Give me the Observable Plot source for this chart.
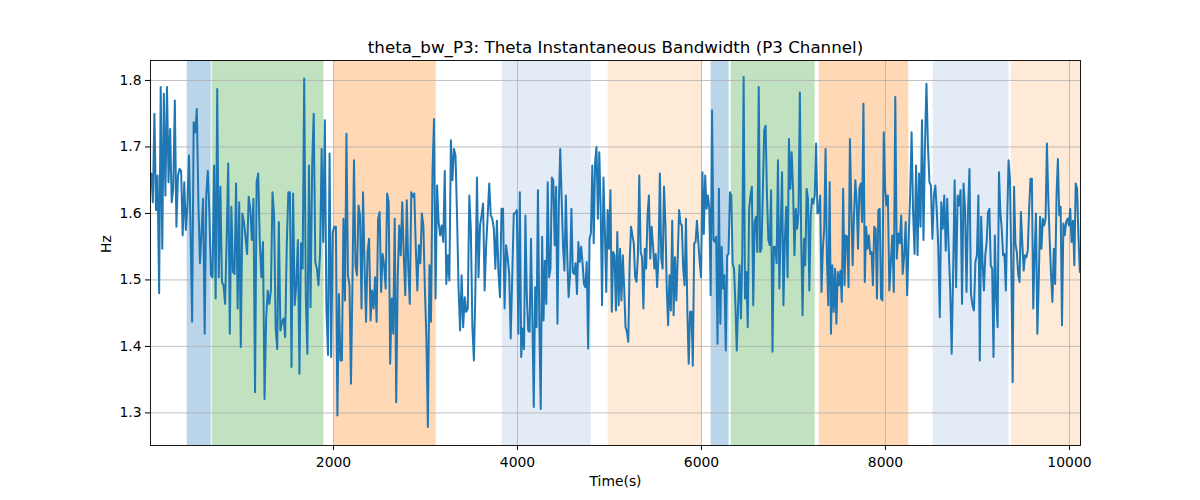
<!DOCTYPE html>
<html>
<head>
<meta charset="utf-8">
<script src="https://cdn.jsdelivr.net/npm/d3@7"></script>
<script src="https://cdn.jsdelivr.net/npm/@observablehq/plot@0.6"></script>
<style>
  html, body { margin: 0; padding: 0; background: #fff; }
  #chart { width: 1200px; height: 500px; }
</style>
</head>
<body>
<div id="chart"></div>
<script>
const title = "theta_bw_P3: Theta Instantaneous Bandwidth (P3 Channel)";
const xLabel = "Time(s)";
const yLabel = "Hz";
const xTicks = [2000, 4000, 6000, 8000, 10000];
const yTicks = [1.3, 1.4, 1.5, 1.6, 1.7, 1.8];
const xDomain = [11, 10120];
const yDomain = [1.251, 1.830];

// time boundaries of the segments (s); values inside each segment are evenly sampled
const segBounds = [11, 1018, 2018, 3018, 4018, 5018, 6018, 7018, 8018, 9018, 10120];

const seg1 = [1.66,1.617,1.75,1.605,1.657,1.48,1.79,1.547,1.78,1.627,1.79,1.647,1.727,1.617,1.637,1.77,1.58,1.657,1.667,1.664,1.567,1.647,1.575,1.612,1.687,1.577,1.437,1.737,1.722,1.757,1.617,1.525,1.572,1.622,1.419,1.627,1.664,1.6,1.507,1.504,1.672,1.472,1.787,1.504,1.64,1.497,1.492,1.464,1.562,1.675,1.419,1.61,1.512,1.509,1.645,1.457,1.617,1.399,1.6];
const seg2 = [1.587,1.565,1.539,1.625,1.607,1.56,1.622,1.331,1.647,1.66,1.557,1.504,1.557,1.321,1.442,1.484,1.464,1.484,1.632,1.597,1.427,1.396,1.587,1.424,1.437,1.442,1.414,1.552,1.632,1.632,1.369,1.63,1.462,1.492,1.56,1.359,1.555,1.517,1.803,1.477,1.389,1.672,1.459,1.672,1.75,1.527,1.517,1.492,1.542,1.697,1.557,1.74,1.457,1.387,1.69,1.384,1.572,1.58];
const seg3 = [1.58,1.296,1.479,1.379,1.379,1.592,1.469,1.72,1.507,1.492,1.344,1.497,1.68,1.522,1.507,1.612,1.597,1.457,1.632,1.522,1.437,1.542,1.562,1.439,1.484,1.457,1.504,1.437,1.592,1.602,1.482,1.539,1.522,1.487,1.63,1.617,1.374,1.472,1.419,1.592,1.316,1.504,1.582,1.537,1.617,1.537,1.477,1.62,1.517,1.464,1.632,1.625,1.63,1.547,1.484,1.552,1.525,1.6,1.582,1.487,1.414];
const seg4 = [1.279,1.522,1.437,1.662,1.742,1.472,1.642,1.587,1.567,1.582,1.557,1.664,1.494,1.537,1.499,1.71,1.65,1.697,1.687,1.597,1.487,1.424,1.507,1.429,1.474,1.452,1.457,1.627,1.577,1.429,1.379,1.487,1.654,1.504,1.582,1.597,1.615,1.484,1.552,1.597,1.645,1.597,1.592,1.577,1.517,1.589,1.512,1.474,1.607,1.607,1.457,1.552,1.534,1.509,1.412,1.504,1.6,1.6,1.605,1.419];
const seg5 = [1.632,1.384,1.427,1.396,1.597,1.477,1.424,1.422,1.562,1.442,1.309,1.489,1.429,1.635,1.432,1.306,1.565,1.439,1.529,1.464,1.647,1.504,1.517,1.654,1.65,1.552,1.64,1.434,1.617,1.697,1.622,1.55,1.514,1.627,1.537,1.474,1.507,1.607,1.512,1.509,1.525,1.479,1.557,1.527,1.55,1.525,1.494,1.489,1.527,1.397,1.562,1.57,1.672,1.555,1.677,1.7,1.592,1.692,1.607,1.462,1.654,1.575,1.482,1.605,1.547,1.635];
const seg6 = [1.452,1.542,1.537,1.454,1.572,1.462,1.547,1.469,1.537,1.487,1.429,1.422,1.407,1.527,1.58,1.567,1.555,1.504,1.497,1.537,1.657,1.542,1.534,1.457,1.547,1.517,1.597,1.627,1.532,1.58,1.552,1.517,1.539,1.489,1.537,1.66,1.532,1.517,1.64,1.587,1.487,1.432,1.507,1.454,1.589,1.447,1.534,1.469,1.534,1.605,1.585,1.582,1.517,1.492,1.592,1.454,1.374,1.452,1.452,1.371,1.555,1.557,1.589,1.557,1.527,1.504,1.662];
const seg7 = [1.569,1.657,1.607,1.627,1.607,1.477,1.755,1.56,1.557,1.565,1.404,1.637,1.434,1.55,1.487,1.507,1.394,1.537,1.539,1.632,1.627,1.525,1.517,1.464,1.394,1.462,1.522,1.442,1.537,1.805,1.472,1.512,1.429,1.607,1.627,1.64,1.462,1.587,1.595,1.542,1.79,1.542,1.547,1.635,1.725,1.732,1.627,1.56,1.552,1.635,1.392,1.55,1.55,1.525,1.68,1.487,1.577,1.662,1.462,1.56,1.61,1.504,1.712,1.637,1.692,1.637,1.537];
const seg8 = [1.607,1.577,1.602,1.782,1.56,1.447,1.562,1.522,1.637,1.622,1.484,1.597,1.622,1.615,1.627,1.705,1.6,1.602,1.627,1.482,1.547,1.577,1.697,1.532,1.462,1.647,1.419,1.522,1.452,1.517,1.434,1.512,1.492,1.514,1.467,1.637,1.492,1.567,1.565,1.489,1.712,1.612,1.522,1.595,1.65,1.617,1.547,1.637,1.645,1.587,1.765,1.497,1.58,1.547,1.567,1.539,1.542,1.492,1.58,1.577,1.472,1.605,1.607,1.472,1.469,1.722,1.637,1.612];
const seg9 = [1.627,1.484,1.527,1.567,1.482,1.775,1.532,1.57,1.555,1.597,1.509,1.537,1.587,1.477,1.56,1.627,1.722,1.602,1.539,1.672,1.537,1.66,1.58,1.74,1.56,1.702,1.795,1.702,1.647,1.642,1.562,1.627,1.642,1.602,1.547,1.444,1.617,1.577,1.627,1.544,1.622,1.547,1.487,1.389,1.512,1.65,1.489,1.627,1.612,1.635,1.464,1.645,1.607,1.482,1.602,1.667,1.479,1.462,1.454,1.527,1.537,1.627];
const seg10 = [1.379,1.595,1.527,1.484,1.537,1.557,1.602,1.607,1.522,1.517,1.384,1.567,1.472,1.429,1.662,1.602,1.577,1.537,1.539,1.484,1.592,1.68,1.652,1.517,1.346,1.64,1.555,1.542,1.509,1.497,1.602,1.557,1.514,1.537,1.534,1.544,1.607,1.652,1.652,1.457,1.539,1.6,1.419,1.497,1.595,1.547,1.592,1.582,1.592,1.705,1.622,1.56,1.509,1.467,1.547,1.494,1.627,1.682,1.597,1.61,1.432,1.585,1.567,1.587,1.592,1.582,1.607,1.557,1.589,1.522,1.645,1.637,1.567,1.512];

// shaded phases
const spanStart = [410, 682, 2005, 3834, 4986, 6105, 6323, 7279, 8518, 9366];
const spanEnd   = [671, 1896, 3116, 4801, 6008, 6301, 7236, 8254, 9344, 10120];
const spanColor = ["#bad4e9", "#c0e2c0", "#ffd8b6", "#e3ebf6", "#feead7",
                   "#bad4e9", "#c0e2c0", "#ffd8b6", "#e3ebf6", "#feead7"];

const segments = [seg1, seg2, seg3, seg4, seg5, seg6, seg7, seg8, seg9, seg10];
const series = segments.flatMap((vals, k) => {
  const a = segBounds[k], b = segBounds[k + 1];
  return vals.map((v, i) => ({ t: a + (i + 0.5) * (b - a) / vals.length, v }));
});
const spans = spanStart.map((s, i) => ({ start: s, end: spanEnd[i], color: spanColor[i] }));

const chart = Plot.plot({
  width: 1200,
  height: 500,
  marginTop: 60,
  marginBottom: 55,
  marginLeft: 150,
  marginRight: 120,
  style: { fontFamily: "DejaVu Sans, sans-serif", fontSize: "13.9px", background: "#fff", color: "#000" },
  x: { domain: xDomain },
  y: { domain: yDomain },
  marks: [
    Plot.barX(spans, { x1: "start", x2: "end", fill: d => d.color, clip: true }),
    Plot.gridX({ ticks: xTicks, stroke: "#b0b0b0", strokeOpacity: 1, strokeWidth: 0.8 }),
    Plot.gridY({ ticks: yTicks, stroke: "#b0b0b0", strokeOpacity: 1, strokeWidth: 0.8 }),
    Plot.line(series, { x: "t", y: "v", stroke: "#1f77b4", strokeWidth: 2, clip: true }),
    Plot.frame({ stroke: "#000", strokeWidth: 0.9 }),
    Plot.axisX({ ticks: xTicks, tickSize: 5, tickPadding: 7, tickFormat: d => String(d), label: null }),
    Plot.axisY({ ticks: yTicks, tickSize: 5, tickPadding: 4, tickFormat: d => d.toFixed(1), label: null }),
    Plot.text([title], { text: d => d, frameAnchor: "top", dy: -19, fontSize: 16.7 }),
    Plot.text([xLabel], { text: d => d, frameAnchor: "bottom", dy: 40 }),
    Plot.text([yLabel], { text: d => d, frameAnchor: "left", dx: -44, rotate: -90 })
  ]
});
document.getElementById("chart").appendChild(chart);
</script>
</body>
</html>
